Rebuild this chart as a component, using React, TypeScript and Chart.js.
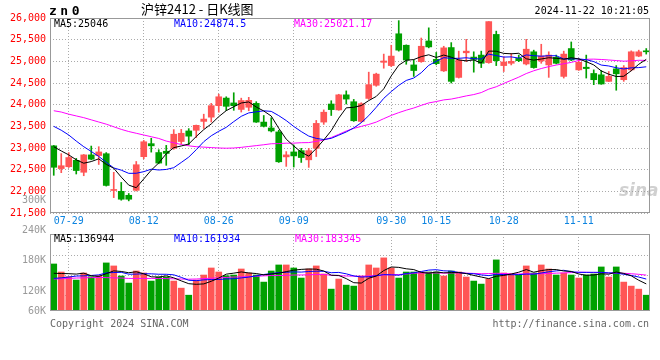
import React, { useEffect, useRef } from 'react';
import { Chart, registerables } from 'chart.js';

Chart.register(...registerables);

// ---------- DATA ----------
const dates = [
  '07-25','07-26','07-29','07-30','07-31','08-01','08-02','08-05','08-06','08-07',
  '08-08','08-09','08-12','08-13','08-14','08-15','08-16','08-19','08-20','08-21',
  '08-22','08-23','08-26','08-27','08-28','08-29','08-30','09-02','09-03','09-04',
  '09-05','09-06','09-09','09-10','09-11','09-12','09-13','09-18','09-19','09-20',
  '09-23','09-24','09-25','09-26','09-27','09-30','10-08','10-09','10-10','10-11',
  '10-14','10-15','10-16','10-17','10-18','10-21','10-22','10-23','10-24','10-25',
  '10-28','10-29','10-30','10-31','11-01','11-04','11-05','11-06','11-07','11-08',
  '11-11','11-12','11-13','11-14','11-15','11-18','11-19','11-20','11-21','11-22',
];
const tickDates = ['07-29','08-12','08-26','09-09','09-30','10-15','10-28','11-11'];

const opens = [
  23050,22525,22568,22715,22440,22841,22826,22868,22020,22000,
  21909,22023,22800,23100,22895,22925,22992,23150,23394,23409,
  23614,23712,23977,24152,24040,23890,23940,24030,23598,23462,
  23371,22795,22909,22939,22727,22992,23598,24015,23879,24227,
  24068,23614,24144,24447,24977,24902,25636,25371,24917,24992,
  25470,25045,24780,25318,24629,25197,25098,25144,24970,25621,
  24902,24955,25068,24939,25220,25008,24917,25091,24652,25295,
  24803,24864,24720,24689,24538,24826,24576,24803,25121,25235,
];
const highs = [
  23060,22870,22894,22760,22850,23045,23030,22894,22440,22205,
  21950,22689,23175,23225,22960,23060,23424,23430,23447,23530,
  23780,24030,24242,24182,24275,24150,24170,24068,23750,23697,
  23409,22917,23068,22992,22992,23636,23879,24091,24240,24318,
  24121,24045,24750,24727,25167,25371,25939,25380,25030,25538,
  25773,25205,25348,25432,25235,25508,25220,25235,25917,25697,
  25106,25182,25144,25508,25258,25394,25220,25144,25235,25447,
  25068,25144,24803,24788,24765,24902,24902,25242,25258,25295,
];
const lows = [
  22370,22430,22550,22400,22360,22727,22620,22121,21855,21795,
  21780,22008,22750,22905,22636,22600,22970,23095,23070,23240,
  23450,23600,23826,23864,23870,23830,23860,23590,23485,23371,
  22667,22576,22561,22667,22553,22803,23545,23750,23870,24015,
  23614,23591,24121,24424,24841,24879,25235,24932,24652,24977,
  25311,24920,24765,24500,24614,24992,24750,24856,24955,24902,
  24765,24917,24992,24917,24841,24955,24630,24940,24614,25015,
  24790,24614,24462,24470,24530,24333,24538,24780,25106,25167,
];
const closes = [
  22555,22591,22780,22480,22841,22742,22909,22136,22035,21818,
  21818,22614,23144,23050,22652,22875,23318,23340,23273,23523,
  23667,23977,24182,23962,23977,24095,24100,23598,23500,23394,
  22682,22841,22818,22780,22939,23568,23826,23886,24227,24129,
  23629,24023,24462,24705,25008,25121,25258,25030,24788,25348,
  25333,24947,25311,24538,25030,25235,25045,24955,25917,25015,
  24985,25000,25015,25280,24856,25121,25144,24955,25167,25030,
  24977,24833,24576,24477,24652,24712,24856,25220,25220,25220,
];
const ma5 = [
  23030,22932,22841,22727,22649,22687,22750,22622,22533,22328,
  22143,22084,22286,22489,22656,22867,23008,23047,23092,23266,
  23424,23556,23724,23862,23953,24039,24063,23946,23854,23737,
  23455,23203,23047,22903,22812,22989,23186,23400,23689,23927,
  23939,23979,24094,24190,24365,24664,24911,25024,25041,25109,
  25151,25089,25145,25095,25032,25012,25032,24961,25236,25233,
  25183,25174,25186,25059,25027,25054,25083,25071,25049,25083,
  25055,24992,24917,24779,24703,24650,24655,24783,24932,25046,
];
const ma10 = [
  23500,23410,23300,23160,23030,22920,22805,22670,22540,22489,
  22415,22417,22454,22511,22492,22505,22546,22666,22790,22961,
  23146,23282,23386,23477,23609,23731,23810,23835,23858,23845,
  23747,23633,23497,23379,23275,23222,23195,23223,23296,23370,
  23464,23583,23747,23939,24146,24302,24445,24559,24615,24737,
  24908,25000,25085,25068,25070,25082,25061,25053,25166,25133,
  25098,25103,25074,25148,25130,25119,25129,25129,25054,25055,
  25055,25038,24994,24914,24893,24852,24824,24850,24855,24874,
];
const ma30 = [
  23860,23830,23780,23740,23700,23650,23600,23550,23490,23430,
  23380,23340,23300,23260,23220,23160,23120,23080,23050,23030,
  23020,23010,23000,22995,23000,23015,23035,23055,23075,23098,
  23102,23111,23112,23122,23125,23153,23183,23242,23315,23392,
  23452,23499,23543,23598,23677,23752,23816,23873,23923,23984,
  24040,24072,24110,24129,24164,24202,24233,24279,24359,24413,
  24490,24562,24635,24718,24782,24834,24878,24914,24945,24975,
  25020,25047,25051,25043,25031,25018,25004,25011,25025,25021,
];

const volumes = [
  238200,197500,173700,156700,192500,173700,178800,243500,228200,177200,
  141400,202600,192500,151600,172000,172000,151600,115800,80100,156700,
  182200,217900,197500,178800,182200,212800,192500,182200,146400,202600,
  233200,233200,217900,166900,212800,228200,187300,110800,161900,131100,
  126100,177200,233200,217900,269000,217900,166900,197500,197500,197500,
  197500,197500,177200,202600,197500,172000,151600,136300,161900,258800,
  192500,187300,182200,228200,192500,233200,212800,182200,192500,182200,
  166900,182200,187300,223100,172000,223100,146400,126100,110800,80100,
];
const volMa5 = [
  191000,190000,189000,187000,191700,178800,175100,189000,203300,200300,
  193800,198600,188400,173100,172000,178100,167900,152600,138300,135200,
  137300,150500,166900,186600,191700,197800,192800,189700,183200,187300,
  191400,199500,206700,210800,212800,211800,202600,181200,180200,163900,
  143400,141400,165900,177100,204700,223000,221000,213800,209800,195500,
  191400,197500,193400,194500,194500,189400,180200,172000,163900,176100,
  180200,187400,196500,209800,196500,204700,209800,209800,202600,200600,
  187300,181200,182200,188300,186300,197500,190400,178100,155700,137300,
];
const volMa10 = [
  165000,168000,172000,177000,178000,180000,183000,193000,195000,196000,
  186300,186800,188700,188200,186200,186000,183300,170500,155700,153600,
  157700,159200,159700,162500,163500,167600,171700,178300,184900,189500,
  194600,196100,198200,197000,200100,201600,201100,193900,195500,188300,
  177600,172000,173600,178700,184300,183200,181200,189900,193400,200100,
  207200,209200,203600,202100,195000,190400,188800,182700,179200,185300,
  184800,183800,184300,186800,186300,192500,198600,203200,206200,198600,
  196000,195500,196000,195500,193400,192400,185800,180200,172000,161800,
];
const volMa30 = [
  162000,163000,165000,167000,168000,169000,170000,169000,168000,167000,
  165000,165000,165000,165000,165000,164000,163000,162000,161000,162000,
  164000,166000,168000,170000,172000,173000,174000,176000,178000,179700,
  179500,180700,182200,182600,183200,185000,185300,180900,178700,177200,
  176600,175800,177200,179400,182600,184100,184600,187400,191300,192600,
  193100,192500,191800,192600,193100,191700,190400,188800,189400,191200,
  189900,188300,187200,189200,188500,188700,189500,191900,192900,194600,
  196000,196200,194600,194800,191600,191800,191100,188700,185800,181900,
];

const priceMin = 21500;
const priceMax = 26000;
const priceStep = 500;
const volMin = 0;
const volMax = 390000;
const volGridLevels = [80000, 180000, 280000];

// ---------- STYLE ----------
const MONO = '"DejaVu Sans Mono", "Liberation Mono", monospace';
const RED = '#ff5555';
const GREEN = '#00a000';
const GRID = '#aaaaaa';
const FRAME = '#999999';

const candleColors = closes.map((c, i) => (c >= opens[i] ? RED : GREEN));

const framePlugin = {
  id: 'frame',
  afterDraw(chart: any) {
    const { ctx, chartArea: a } = chart;
    ctx.save();
    ctx.strokeStyle = FRAME;
    ctx.lineWidth = 1;
    ctx.setLineDash([]);
    ctx.strokeRect(a.left + 0.5, a.top + 0.5, a.right - a.left - 1, a.bottom - a.top - 1);
    ctx.restore();
  },
};

function xScale(showLabels: boolean, height: number) {
  return {
    type: 'category',
    offset: true,
    grid: { color: GRID, offset: false, drawTicks: false, lineWidth: 1 },
    border: { display: false, dash: [1, 2] },
    ticks: {
      display: showLabels,
      autoSkip: false,
      maxRotation: 0,
      color: '#0d84e0',
      padding: 2,
      font: { family: MONO, size: 10 },
    },
    afterBuildTicks: (scale: any) => {
      scale.ticks = tickDates.map((d) => ({ value: dates.indexOf(d) }));
    },
    afterFit: (scale: any) => {
      scale.height = height;
    },
  };
}

function line(data: number[], color: string) {
  return {
    type: 'line',
    data,
    borderColor: color,
    borderWidth: 1,
    pointRadius: 0,
    tension: 0,
    fill: false,
    order: 0,
  };
}

type TProps = {
  x?: number;
  right?: number;
  y: number;
  color?: string;
  size?: number;
  bold?: boolean;
  italic?: boolean;
  family?: string;
  ls?: string;
  children: React.ReactNode;
};
function T({ x, right, y, color = '#000', size = 10, bold, italic, family = MONO, ls, children }: TProps) {
  const style: React.CSSProperties = {
    position: 'absolute',
    top: y,
    color,
    fontSize: size,
    fontFamily: family,
    fontWeight: bold ? 'bold' : 'normal',
    fontStyle: italic ? 'italic' : 'normal',
    lineHeight: `${Math.round(size * 1.2)}px`,
    whiteSpace: 'pre',
    letterSpacing: ls,
  };
  if (x !== undefined) style.left = x;
  if (right !== undefined) style.right = right;
  return <div style={style}>{children}</div>;
}

export default function App() {
  const priceRef = useRef<HTMLCanvasElement>(null);
  const volRef = useRef<HTMLCanvasElement>(null);

  useEffect(() => {
    document.body.style.margin = '0';
    const price = new Chart(priceRef.current as HTMLCanvasElement, {
      type: 'bar',
      data: {
        labels: dates,
        datasets: [
          line(ma5, '#000000'),
          line(ma10, '#0000ff'),
          line(ma30, '#ff00ff'),
          {
            type: 'bar',
            data: opens.map((o, i) => [o, closes[i]]),
            backgroundColor: candleColors,
            borderWidth: 0,
            barThickness: 6,
            minBarLength: 1,
            grouped: false,
            order: 1,
          },
          {
            type: 'bar',
            data: lows.map((l, i) => [l, highs[i]]),
            backgroundColor: candleColors,
            borderWidth: 0,
            barThickness: 1,
            grouped: false,
            order: 2,
          },
        ] as any,
      },
      options: {
        responsive: false,
        devicePixelRatio: 1,
        animation: false,
        layout: { padding: { top: 18, right: 10, left: 0, bottom: 0 } },
        plugins: { legend: { display: false }, tooltip: { enabled: false } },
        scales: {
          x: xScale(true, 19) as any,
          y: {
            type: 'linear',
            min: priceMin,
            max: priceMax,
            ticks: {
              stepSize: priceStep,
              color: '#ff0000',
              padding: 4,
              font: { family: MONO, size: 10 },
            },
            grid: { color: GRID, drawTicks: false, lineWidth: 1 },
            border: { display: false, dash: [1, 2] },
            afterFit: (s: any) => {
              s.width = 50;
            },
          },
        },
      },
      plugins: [framePlugin],
    });

    const vol = new Chart(volRef.current as HTMLCanvasElement, {
      type: 'bar',
      data: {
        labels: dates,
        datasets: [
          line(volMa5, '#000000'),
          line(volMa10, '#0000ff'),
          line(volMa30, '#ff00ff'),
          {
            type: 'bar',
            data: volumes,
            backgroundColor: candleColors,
            borderWidth: 0,
            barThickness: 6,
            grouped: false,
            order: 1,
          },
        ] as any,
      },
      options: {
        responsive: false,
        devicePixelRatio: 1,
        animation: false,
        layout: { padding: { top: 8, right: 10, left: 0, bottom: 0 } },
        plugins: { legend: { display: false }, tooltip: { enabled: false } },
        scales: {
          x: xScale(false, 1) as any,
          y: {
            type: 'linear',
            min: volMin,
            max: volMax,
            ticks: { display: false },
            grid: { color: GRID, drawTicks: false, lineWidth: 1 },
            border: { display: false, dash: [1, 2] },
            afterBuildTicks: (scale: any) => {
              scale.ticks = volGridLevels.map((v) => ({ value: v }));
            },
            afterFit: (s: any) => {
              s.width = 50;
            },
          },
        },
      },
      plugins: [framePlugin],
    });

    return () => {
      price.destroy();
      vol.destroy();
    };
  }, []);

  return (
    <div
      style={{
        position: 'absolute',
        left: 0,
        top: 0,
        width: 660,
        height: 360,
        background: '#fff',
        overflow: 'hidden',
      }}
    >
      <canvas ref={priceRef} width={660} height={232} style={{ position: 'absolute', left: 0, top: 0 }} />
      <canvas ref={volRef} width={660} height={86} style={{ position: 'absolute', left: 0, top: 226 }} />

      {/* header */}
      <T x={49} y={3} size={13} bold ls="3.5px">zn0</T>
      <T x={141} y={1} size={13} family={'"Noto Sans CJK SC", sans-serif'}>沪锌2412 - 日K线图</T>
      <T right={11} y={5} size={10}>2024-11-22 10:21:05</T>

      {/* price MA legend */}
      <T x={54} y={18} color="#000">MA5:25046</T>
      <T x={174} y={18} color="#0000ff">MA10:24874.5</T>
      <T x={294} y={18} color="#ff00ff">MA30:25021.17</T>

      {/* volume axis labels */}
      <T right={614} y={194} color="#999">300K</T>
      <T right={614} y={224} color="#999">240K</T>
      <T right={614} y={254} color="#999">180K</T>
      <T right={614} y={285} color="#999">120K</T>
      <T right={614} y={305} color="#999">60K</T>

      {/* volume MA legend */}
      <T x={54} y={233} color="#000">MA5:136944</T>
      <T x={174} y={233} color="#0000ff">MA10:161934</T>
      <T x={295} y={233} color="#ff00ff">MA30:183345</T>

      {/* footer */}
      <T x={50} y={318} color="#666">Copyright 2024 SINA.COM</T>
      <T right={11} y={318} color="#666">http://finance.sina.com.cn</T>

      {/* watermark */}
      <T x={619} y={180} size={17} bold italic color="rgba(150,150,150,0.45)" family={'"DejaVu Sans", sans-serif'}>sina</T>
    </div>
  );
}
